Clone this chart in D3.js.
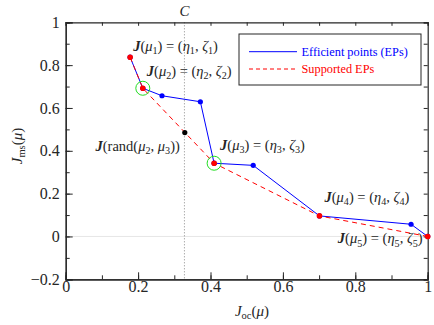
<!DOCTYPE html>
<html>
<head>
<meta charset="utf-8">
<script src="https://cdn.jsdelivr.net/npm/d3@7"></script>
<style>
  body { margin: 0; background: #fff; }
  text { font-family: "Liberation Serif", "DejaVu Serif", serif; }
</style>
</head>
<body>
<div id="chart"></div>
<script>
// data
var effX = [0.178, 0.213, 0.266, 0.372, 0.410, 0.518, 0.701, 0.954, 1.0];
var effY = [0.837, 0.692, 0.657, 0.629, 0.342, 0.332, 0.096, 0.057, 0.0];
var supX = [0.178, 0.213, 0.410, 0.701, 1.0];
var supY = [0.837, 0.692, 0.342, 0.096, 0.0];
var circled = [1, 2]; // supported points that get a green ring
var randX = 0.329, randY = 0.485;
var cValue = 0.328;
var xTicks = [0, 0.2, 0.4, 0.6, 0.8, 1];
var yTicks = [-0.2, 0, 0.2, 0.4, 0.6, 0.8, 1];
var legendLabels = ["Efficient points (EPs)", "Supported EPs"];

var W = 434, H = 325;
var serif = "Liberation Serif, DejaVu Serif, serif";
var x = d3.scaleLinear().domain([0, 1]).range([65.7, 427.7]);
var y = d3.scaleLinear().domain([-0.2, 1]).range([279.3, 22.3]);
var ink = "#262626";

var svg = d3.select("#chart").append("svg")
  .attr("width", W).attr("height", H)
  .attr("font-family", serif);

//Grey zero line and the dotted C line
svg.append("line")
  .attr("x1", x(0)).attr("x2", x(1))
  .attr("y1", y(0)).attr("y2", y(0))
  .style("stroke", "#e6e6e6").style("stroke-width", 1);
svg.append("line")
  .attr("x1", x(cValue)).attr("x2", x(cValue))
  .attr("y1", y(1)).attr("y2", y(-0.2))
  .style("stroke", "#888").style("stroke-width", 1)
  .style("stroke-dasharray", "1,2");

//Axes (ticks point inwards)
function fmt(d) { return d < 0 ? "\u2212" + Math.abs(d) : String(d); }
var minor = d3.range(-0.2, 1.0001, 0.1).map(function(d){ return Math.round(d*10)/10; });
var minorX = d3.range(0, 1.0001, 0.1).map(function(d){ return Math.round(d*10)/10; });

svg.append("g").attr("transform", "translate(0," + y(-0.2) + ")")
  .call(d3.axisBottom(x).tickValues(minorX).tickSize(-4).tickFormat(""));
svg.append("g").attr("transform", "translate(0," + y(-0.2) + ")")
  .call(d3.axisBottom(x).tickValues(xTicks).tickSize(-7).tickPadding(1.5).tickFormat(fmt));
svg.append("g").attr("transform", "translate(" + x(0) + ",0)")
  .call(d3.axisLeft(y).tickValues(minor).tickSize(-4).tickFormat(""));
svg.append("g").attr("transform", "translate(" + x(0) + ",0)")
  .call(d3.axisLeft(y).tickValues(yTicks).tickSize(-7).tickPadding(6).tickFormat(fmt));
svg.append("g").attr("transform", "translate(0," + y(1) + ")")
  .call(d3.axisTop(x).tickValues(minorX).tickSize(-3.5).tickFormat(""));
svg.append("g").attr("transform", "translate(" + x(1) + ",0)")
  .call(d3.axisRight(y).tickValues(minor).tickSize(-4).tickFormat(""));

svg.selectAll("g").attr("font-family", serif);
svg.selectAll(".domain").style("stroke", ink).attr("stroke-width", 1.2);
svg.selectAll(".tick line").style("stroke", ink);
svg.selectAll(".tick text").style("fill", ink).attr("font-size", 16)
  .attr("font-family", serif);

//Lines
var effPts = effX.map(function(d, i){ return [d, effY[i]]; });
var supPts = supX.map(function(d, i){ return [d, supY[i]]; });
var line = d3.line().x(function(d){ return x(d[0]); }).y(function(d){ return y(d[1]); });

svg.append("path").datum(effPts).attr("d", line)
  .style("fill", "none").style("stroke", "#0000ff").style("stroke-width", 1);
svg.append("path").datum(supPts).attr("d", line)
  .style("fill", "none").style("stroke", "#ff0000").style("stroke-width", 1)
  .style("stroke-dasharray", "5,4");

svg.selectAll("circle.eff").data(effPts).enter().append("circle")
  .attr("class", "eff")
  .attr("cx", function(d){ return x(d[0]); })
  .attr("cy", function(d){ return y(d[1]); })
  .attr("r", 2.6).style("fill", "#0000ff");
svg.selectAll("circle.sup").data(supPts).enter().append("circle")
  .attr("class", "sup")
  .attr("cx", function(d){ return x(d[0]); })
  .attr("cy", function(d){ return y(d[1]); })
  .attr("r", 2.8).style("fill", "#ff0000");
svg.selectAll("circle.ring").data(circled.map(function(i){ return supPts[i]; })).enter().append("circle")
  .attr("class", "ring")
  .attr("cx", function(d){ return x(d[0]); })
  .attr("cy", function(d){ return y(d[1]); })
  .attr("r", 7).style("fill", "none").style("stroke", "#22dd22").style("stroke-width", 1);
svg.append("circle")
  .attr("cx", x(randX)).attr("cy", y(randY))
  .attr("r", 2.6).style("fill", "black");

//Math-ish text built from tspans: [text, kind]
function mathText(g, parts, size) {
  var t = g.append("text").attr("font-family", serif)
    .attr("font-size", size).style("fill", ink);
  var sub = false;
  parts.forEach(function(p) {
    var s = t.append("tspan").text(p[0]);
    var k = p[1];
    if (k == "b") s.attr("font-weight", "bold").attr("font-style", "italic");
    if (k == "i") s.attr("font-style", "italic");
    if (k == "sub") {
      s.attr("font-size", size * 0.7);
      if (!sub) s.attr("dy", size * 0.22);
      sub = true;
    } else if (sub) {
      s.attr("dy", -size * 0.22);
      sub = false;
    }
  });
  return t;
}
function jLabel(n) {
  return [["J", "b"], ["(", ""], ["\u03bc", "i"], [n, "sub"], [") = (", ""],
          ["\u03b7", "i"], [n, "sub"], [", ", ""], ["\u03b6", "i"], [n, "sub"], [")", ""]];
}

// label offsets from their points (pixels)
var labOff = [[3, 3, "start"], [4, -3, "start"], [6, -4, "start"], [5, -5, "start"], [-5, 16, "end"]];
supPts.forEach(function(d, i) {
  var g = svg.append("g")
    .attr("transform", "translate(" + (x(d[0]) + labOff[i][0]) + "," + (y(d[1]) + labOff[i][1] - 9) + ")");
  mathText(g, jLabel(String(i + 1)), 14.5).attr("text-anchor", labOff[i][2]);
});
var gr = svg.append("g").attr("transform", "translate(" + (x(randX) - 5) + "," + (y(randY) + 18) + ")");
mathText(gr, [["J", "b"], ["(rand(", ""], ["\u03bc", "i"], ["2", "sub"], [", ", ""],
              ["\u03bc", "i"], ["3", "sub"], ["))", ""]], 14.5).attr("text-anchor", "end");

//C label
svg.append("text").attr("x", x(cValue)).attr("y", 16).attr("text-anchor", "middle")
  .attr("font-family", serif).attr("font-style", "italic").attr("font-size", 15)
  .style("fill", ink).text("C");

//Axis titles
var gx = svg.append("g").attr("transform", "translate(252,316)");
mathText(gx, [["J", "i"], ["oc", "sub"], ["(", ""], ["\u03bc", "i"], [")", ""]], 15).attr("text-anchor", "middle");
var gy = svg.append("g").attr("transform", "translate(22,146) rotate(-90)");
mathText(gy, [["J", "i"], ["ms", "sub"], ["(", ""], ["\u03bc", "i"], [")", ""]], 15).attr("text-anchor", "middle");

//Legend
var leg = svg.append("g");
leg.append("rect").attr("x", 239).attr("y", 34).attr("width", 182).attr("height", 51)
  .style("fill", "white").style("stroke", ink).style("stroke-width", 1);
var legColors = ["#0000ff", "#ff0000"];
var legDash = ["none", "4,3"];
legendLabels.forEach(function(lab, i) {
  var yy = 51.7 + i * 17.3;
  leg.append("line").attr("x1", 249).attr("x2", 297).attr("y1", yy).attr("y2", yy)
    .style("stroke", legColors[i]).style("stroke-width", 1).style("stroke-dasharray", legDash[i]);
  leg.append("text").attr("x", 301.5).attr("y", yy + 4.3)
    .attr("font-family", serif).attr("font-size", 12.3)
    .style("fill", legColors[i]).text(lab);
});
</script>
</body>
</html>
